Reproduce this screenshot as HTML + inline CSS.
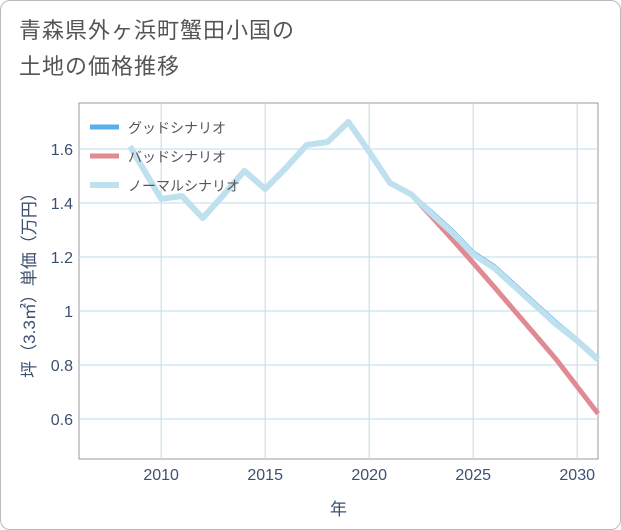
<!DOCTYPE html>
<html><head><meta charset="utf-8"><style>
body{margin:0;background:#fff;}
#wrap{position:relative;width:619px;height:528px;border:1px solid #bbb;border-radius:10px;background:#fff;overflow:hidden;font-family:"Liberation Sans","Noto Sans CJK JP",sans-serif;}
.title{position:absolute;left:18px;top:12px;font-size:22px;line-height:36px;color:#555;letter-spacing:1px;}
</style></head><body>
<div id="wrap">
<div class="title">青森県外ヶ浜町蟹田小国の<br>土地の価格推移</div>
<svg id="chart" width="621" height="530" style="position:absolute;left:0;top:0"></svg>
</div>
<script>
const normalYears=[2008.5,2010,2011,2012,2013,2014,2015,2016,2017,2018,2019,2020,2021,2022,2023,2024,2025,2026,2027,2028,2029,2030,2031];
const normalValues=[1.61,1.415,1.426,1.344,1.43,1.519,1.452,1.53,1.615,1.626,1.70,1.59,1.474,1.433,1.36,1.29,1.21,1.16,1.09,1.02,0.95,0.89,0.82];
const forecastYears=[2022,2023,2024,2025,2026,2027,2028,2029,2030,2031];
const goodValues=[1.433,1.365,1.295,1.215,1.165,1.095,1.025,0.955,0.892,0.823];
const badValues=[1.433,1.35,1.265,1.178,1.09,1.0,0.91,0.82,0.72,0.62];
const xTicks=[2010,2015,2020,2025,2030];
const yTicks=[0.6,0.8,1.0,1.2,1.4,1.6];
const yTickLabels=["0.6","0.8","1","1.2","1.4","1.6"];
const NS="http://www.w3.org/2000/svg";
const svg=document.getElementById('chart');
const L=78,R=597,T=102,B=458;
const X=y=>L+(y-2006.05)/(2031-2006.05)*(R-L);
const Y=v=>418-(v-0.6)*270;
function mk(t,a){const e=document.createElementNS(NS,t);for(const k in a)e.setAttribute(k,a[k]);svg.appendChild(e);return e;}
const frame=mk('rect',{x:L,y:T,width:R-L,height:B-T,fill:'none',stroke:'#999','stroke-width':1});


yTicks.forEach((v,i)=>{
 const g=mk('line',{x1:L,x2:R,y1:Y(v),y2:Y(v),stroke:'#bfdce8','stroke-width':1});
 
 
 const t=mk('text',{x:L-6,y:Y(v)+6,'text-anchor':'end','font-size':16,fill:'#3d5070'});
 t.textContent=yTickLabels[i];
 
 
});
xTicks.forEach(v=>{
 const g=mk('line',{x1:X(v),x2:X(v),y1:T,y2:B,stroke:'#bfdce8','stroke-width':1});
 
 
 const t=mk('text',{x:X(v),y:B+21,'text-anchor':'middle','font-size':16,fill:'#3d5070'});
 t.textContent=v;
 
 
});
function line(xs,vs,color,w,name){
 const p=mk('polyline',{points:xs.map((x,i)=>X(x)+','+Y(vs[i])).join(' '),fill:'none',stroke:color,'stroke-width':w,'stroke-linejoin':'round'});
 
 
}
line(forecastYears,badValues,'#e08a93',5,'bad-scenario-line');
line(forecastYears,goodValues,'#5aaeea',5,'good-scenario-line');
line(normalYears,normalValues,'#bfe0ee',6,'normal-scenario-line');
const leg=[['グッドシナリオ','#5aaeea',5],['バッドシナリオ','#e08a93',5],['ノーマルシナリオ','#bfe0ee',6]];
leg.forEach((l,i)=>{
 const y=126+i*29;
 const s=mk('line',{x1:89,x2:118,y1:y,y2:y,stroke:l[1],'stroke-width':l[2]});
 
 
 const t=mk('text',{x:127,y:y+6,'font-size':14,fill:'#555'});
 t.textContent=l[0];
 
 
});
const xt=mk('text',{x:(L+R)/2,y:514,'text-anchor':'middle','font-size':17,fill:'#3d5070'});
xt.textContent='年';


const yt=mk('text',{x:0,y:0,'text-anchor':'middle','font-size':17,fill:'#3d5070',transform:`translate(34,${(T+B)/2}) rotate(-90)`});
yt.textContent='坪（3.3㎡）単価（万円）';


</script>
</body></html>
